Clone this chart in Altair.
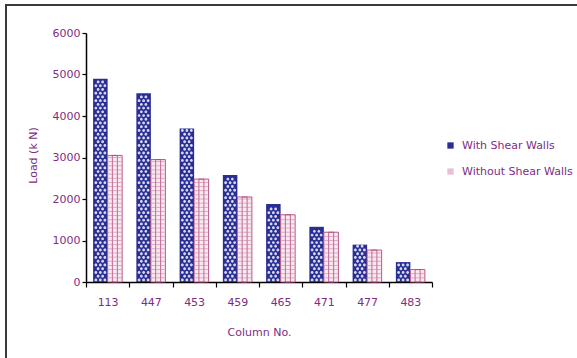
import altair as alt
import pandas as pd

# Column numbers and axial loads (kN)
columns = ["113", "447", "453", "459", "465", "471", "477", "483"]
with_shear_walls = [4900, 4550, 3700, 2580, 1880, 1330, 900, 480]
without_shear_walls = [3050, 2950, 2480, 2050, 1620, 1200, 770, 300]
series_names = ["With Shear Walls", "Without Shear Walls"]
y_ticks = [0, 1000, 2000, 3000, 4000, 5000, 6000]

rows = []
for c, a, b in zip(columns, with_shear_walls, without_shear_walls):
    rows.append({"column": c, "series": series_names[0], "load": a})
    rows.append({"column": c, "series": series_names[1], "load": b})
df = pd.DataFrame(rows)

FONT = "DejaVu Sans"
TEXT = "#7e2d84"
NAVY = "#2a2e92"
PINK = "#b3487c"

x_enc = alt.X(
    "column:N",
    sort=columns,
    scale=alt.Scale(paddingInner=0, paddingOuter=0),
    axis=alt.Axis(
        title="Column No.",
        tickBand="extent",
        labelAngle=0,
        labelPadding=9,
        tickSize=5,
        titleY=50,
        titleBaseline="middle",
    ),
)
xo_enc = alt.XOffset(
    "series:N",
    sort=series_names,
    scale=alt.Scale(paddingInner=0, paddingOuter=0.49),
)
y_enc = alt.Y(
    "load:Q",
    scale=alt.Scale(domain=[0, 6000], nice=False),
    axis=alt.Axis(
        title="Load (k N)",
        values=y_ticks,
        format="d",
        tickSize=4,
        labelPadding=2,
        titleX=-53,
        titleY=122,
        titleAngle=-90,
        titleAlign="center",
        titleBaseline="middle",
    ),
)
color_enc = alt.Color(
    "series:N",
    sort=series_names,
    scale=alt.Scale(domain=series_names, range=[NAVY, "#e8bfd3"]),
    legend=alt.Legend(
        title=None,
        orient="none",
        legendX=359,
        legendY=107,
        symbolType="square",
        symbolSize=40,
        symbolStrokeWidth=0,
        labelFont=FONT,
        labelFontSize=11,
        labelColor=TEXT,
        labelOffset=6,
        rowPadding=14,
        padding=0,
    ),
)

base = alt.Chart(df)

bars = base.mark_bar(stroke=None).encode(
    x=x_enc, xOffset=xo_enc, y=y_enc, color=color_enc
)

# red bars: pink outline plus grid texture
red = base.transform_filter(alt.datum.series == series_names[1])
red_outline = red.mark_bar(fill="#f8e8f0", stroke=PINK, strokeWidth=0.9).encode(
    x=x_enc, xOffset=xo_enc, y=y_enc
)
red_inner = red.mark_bar(width=5, fill=None, stroke=PINK, strokeWidth=0.8).encode(
    x=x_enc, xOffset=xo_enc, y=y_enc
)
red_hlines = (
    red.transform_calculate(lvl="sequence(100, datum.load - 20, 100)")
    .transform_flatten(["lvl"])
    .mark_tick(color="#c97aa0", thickness=0.8, size=13)
    .encode(x=x_enc, xOffset=xo_enc, y=alt.Y("lvl:Q"))
)

# blue bars: staggered light dots on navy
blue = base.transform_filter(alt.datum.series == series_names[0])
dot = lambda cx, r=0.2: (
    f"M{cx - r},0A{r},{r} 0 1,0 {cx + r},0A{r},{r} 0 1,0 {cx - r},0Z"
)
shape_a = " ".join(dot(c) for c in (-0.62, 0.0, 0.62))
shape_b = " ".join(dot(c) for c in (-0.31, 0.31))
blue_dots_a = (
    blue.transform_calculate(lvl="sequence(50, datum.load - 30, 180)")
    .transform_flatten(["lvl"])
    .mark_point(shape=shape_a, size=210, filled=True, fill="#d4d8f4", strokeWidth=0, opacity=1)
    .encode(x=x_enc, xOffset=xo_enc, y=alt.Y("lvl:Q"))
)
blue_dots_b = (
    blue.transform_calculate(lvl="sequence(140, datum.load - 30, 180)")
    .transform_flatten(["lvl"])
    .mark_point(shape=shape_b, size=210, filled=True, fill="#d4d8f4", strokeWidth=0, opacity=1)
    .encode(x=x_enc, xOffset=xo_enc, y=alt.Y("lvl:Q"))
)

# outer frame lines (top and left)
frame_df = pd.DataFrame({"k": [0]})
frame_top = alt.Chart(frame_df).mark_rule(color="#3a3a3a", strokeWidth=2).encode(
    x=alt.value(-81), x2=alt.value(495), y=alt.value(-28)
)
frame_left = alt.Chart(frame_df).mark_rule(color="#3a3a3a", strokeWidth=2).encode(
    x=alt.value(-80), y=alt.value(-29), y2=alt.value(330)
)

chart = (
    alt.layer(
        bars, red_outline, red_inner, red_hlines, blue_dots_a, blue_dots_b,
        frame_top, frame_left,
    )
    .properties(
        width=346,
        height=249,
        autosize=alt.AutoSizeParams(type="none"),
        padding={"left": 86, "top": 33, "right": 145, "bottom": 76},
        background="white",
    )
    .configure_view(stroke=None)
    .configure_axis(
        labelFont=FONT,
        labelFontSize=11,
        labelColor=TEXT,
        titleFont=FONT,
        titleFontSize=11,
        titleFontWeight="normal",
        titleColor=TEXT,
        domainColor="black",
        domainWidth=1.5,
        tickColor="black",
        tickWidth=1.2,
        grid=False,
    )
)

chart.save("out.html", embed_options={"renderer": "svg", "actions": False})
